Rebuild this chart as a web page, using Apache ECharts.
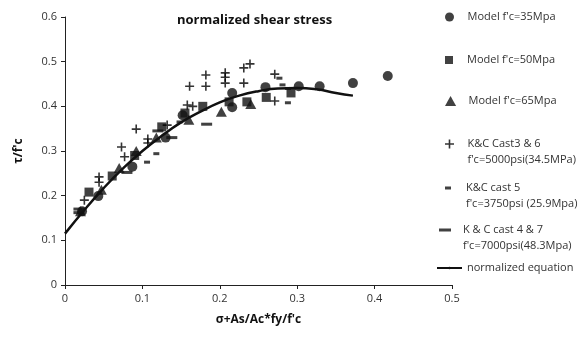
<!DOCTYPE html>
<html><head><meta charset="utf-8">
<script src="https://cdn.jsdelivr.net/npm/echarts@6/dist/echarts.min.js"></script>
<style>html,body{margin:0;padding:0;background:#fff}#c{width:587px;height:338px}</style>
</head><body><div id="c"></div>
<script>
var xTicks = [0, 0.1, 0.2, 0.3, 0.4, 0.5];
var yTicks = [0, 0.1, 0.2, 0.3, 0.4, 0.5, 0.6];
var model35 = [[0.022,0.165],[0.043,0.199],[0.087,0.265],[0.13,0.33],[0.152,0.38],[0.216,0.43],[0.216,0.398],[0.259,0.443],[0.302,0.445],[0.329,0.445],[0.372,0.452],[0.417,0.468]];
var model50 = [[0.031,0.208],[0.061,0.244],[0.09,0.29],[0.125,0.354],[0.155,0.385],[0.178,0.40],[0.212,0.41],[0.235,0.41],[0.26,0.42],[0.292,0.43]];
var model65 = [[0.02,0.165],[0.047,0.213],[0.07,0.262],[0.092,0.30],[0.118,0.33],[0.16,0.37],[0.202,0.388],[0.24,0.405]];
var kc36 = [[0.025,0.19],[0.044,0.242],[0.044,0.23],[0.073,0.309],[0.077,0.287],[0.092,0.349],[0.107,0.327],[0.107,0.318],[0.132,0.358],[0.158,0.403],[0.165,0.40],[0.161,0.445],[0.182,0.47],[0.182,0.445],[0.207,0.475],[0.207,0.465],[0.207,0.452],[0.231,0.486],[0.239,0.495],[0.231,0.452],[0.271,0.472],[0.271,0.412]];
var kc5 = [[0.106,0.275],[0.118,0.294],[0.148,0.365],[0.277,0.463],[0.281,0.448],[0.288,0.44],[0.288,0.408]];
var kc47 = [[0.018,0.170],[0.018,0.162],[0.08,0.252],[0.138,0.33],[0.183,0.36],[0.12,0.345]];
var eqX = [0,0.025,0.05,0.075,0.1,0.125,0.15,0.175,0.2,0.225,0.25,0.275,0.3,0.325,0.35,0.372];
var eqY = [0.115,0.168,0.217,0.261,0.300,0.334,0.364,0.388,0.409,0.424,0.434,0.440,0.441,0.438,0.430,0.424];

var names = ["Model f'c=35Mpa","Model f'c=50Mpa","Model f'c=65Mpa","K&C Cast3 & 6\nf'c=5000psi(34.5MPa)","K&C cast 5\nf'c=3750psi (25.9Mpa)","K & C cast 4 & 7\nf'c=7000psi(48.3Mpa)","normalized equation"];
var PLUS = 'path://M3.7,0H5.3V9H3.7ZM0,3.7H9V5.3H0Z';
var SQUARE = 'path://M0,0H1V1H0Z';
var TRI = 'path://M5,0L10,9H0Z';
var DASH = 'path://M0,0H6V3H0Z';
var LDASH = 'path://M0,0H12V3H0Z';
var INK = '#111';
var FONT = '"Open Sans", "Noto Sans", sans-serif';

function lg(name, top, h, left, w, two) {
  return {
    data: [name], orient: 'vertical', left: left, top: top,
    itemWidth: w, itemHeight: h, padding: 0, selectedMode: false,
    formatter: two ? function (n) { return '\u00a0\n' + n; } : null,
    textStyle: {fontFamily: FONT, fontSize: 11, color: '#333', lineHeight: 16}
  };
}

var chart = echarts.init(document.getElementById('c'), null, {renderer: 'canvas'});
chart.setOption({
  animation: false,
  backgroundColor: '#fff',
  title: {text: 'normalized shear stress', left: 177, top: 14, padding: 0,
    textStyle: {fontFamily: FONT, fontSize: 13, fontWeight: 'bold', color: '#111'}},
  grid: {left: 65, right: 135, top: 17, bottom: 53},
  legend: [
    lg(names[0], 17 - 8, 9, 445, 26, false),
    lg(names[1], 60 - 8, 8, 445, 26, false),
    lg(names[2], 101 - 8, 10, 445, 26, false),
    lg(names[3], 144 - 24, 9, 445, 26, true),
    lg(names[4], 188 - 24, 3, 445, 26, true),
    lg(names[5], 230 - 24, 3, 439, 26, true),
    lg(names[6], 268 - 8, 3, 436, 25, false)
  ],
  xAxis: {
    type: 'value', min: xTicks[0], max: xTicks[xTicks.length-1], interval: 0.1,
    name: 'σ+As/Ac*fy/f\'c', nameLocation: 'middle', nameGap: 29,
    nameTextStyle: {fontFamily: FONT, fontSize: 12, fontWeight: 'bold', color: '#111'},
    axisLine: {show: true, onZero: false, lineStyle: {color: '#222', width: 1}},
    axisTick: {show: true, length: 4, lineStyle: {color: '#222'}},
    axisLabel: {fontFamily: FONT, fontSize: 11, color: '#333', margin: 8,
      formatter: function (v) { return String(Math.round(v*10)/10); }},
    splitLine: {show: false}
  },
  yAxis: {
    type: 'value', min: yTicks[0], max: yTicks[yTicks.length-1], interval: 0.1,
    name: 'τ/f\'c', nameLocation: 'middle', nameGap: 40, nameRotate: 90,
    nameTextStyle: {fontFamily: FONT, fontSize: 12, fontWeight: 'bold', color: '#111'},
    axisLine: {show: true, lineStyle: {color: '#222', width: 1}},
    axisTick: {show: true, length: 4, lineStyle: {color: '#222'}},
    axisLabel: {fontFamily: FONT, fontSize: 11, color: '#333', margin: 8,
      formatter: function (v) { return String(Math.round(v*10)/10); }},
    splitLine: {show: false}
  },
  series: [
    {name: names[0], type: 'scatter', data: model35, symbol: 'circle', symbolSize: 10, itemStyle: {color: INK}},
    {name: names[1], type: 'scatter', data: model50, symbol: SQUARE, symbolSize: 9, itemStyle: {color: INK}},
    {name: names[2], type: 'scatter', data: model65, symbol: TRI, symbolSize: [11,10], itemStyle: {color: INK}},
    {name: names[3], type: 'scatter', data: kc36, symbol: PLUS, symbolSize: 9, itemStyle: {color: '#000'}},
    {name: names[4], type: 'scatter', data: kc5, symbol: DASH, symbolSize: [6,3], itemStyle: {color: INK}},
    {name: names[5], type: 'scatter', data: kc47, symbol: LDASH, symbolSize: [11,3], itemStyle: {color: INK}},
    {name: names[6], type: 'line', data: eqX.map(function (x, i) { return [x, eqY[i]]; }),
      smooth: true, symbol: 'none', showSymbol: false, lineStyle: {color: INK, width: 2.5}, itemStyle: {color: INK}, z: 3}
  ]
});
</script></body></html>
